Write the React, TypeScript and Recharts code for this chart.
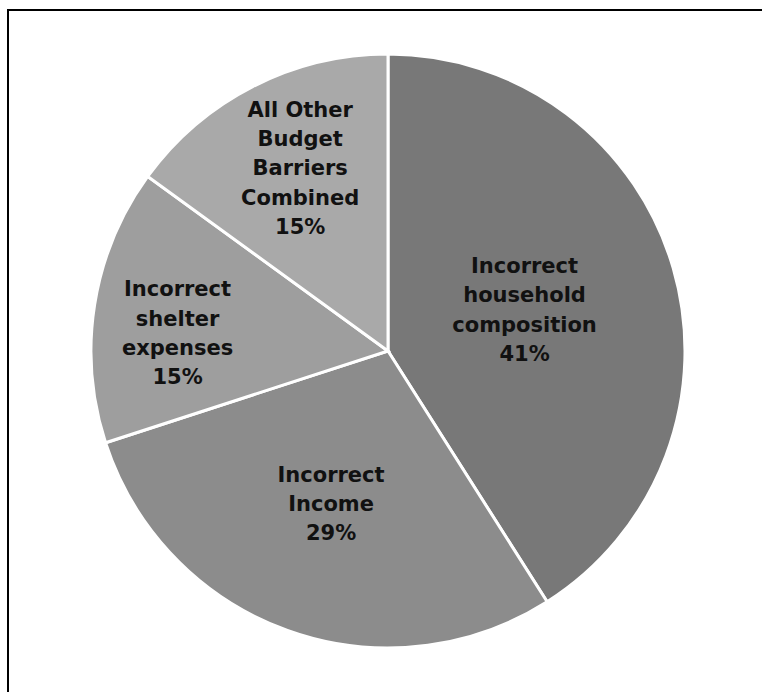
import React from 'react';
import { PieChart, Pie, Cell } from 'recharts';

// Slices go clockwise from 12 o'clock
const categories = [
  ['Incorrect', 'household', 'composition'],
  ['Incorrect', 'Income'],
  ['Incorrect', 'shelter', 'expenses'],
  ['All Other', 'Budget', 'Barriers', 'Combined'],
];
const shares = [41, 29, 15, 15];

const colors = ['#787878', '#8c8c8c', '#9e9e9e', '#a9a9a9'];
// label block placement: fraction of radius + small angle nudge (deg)
const labelRadius = [0.48, 0.55, 0.711, 0.682];
const labelNudge = [0.5, -0.6, 4.2, -1.3];

const data = shares.map((value, i) => ({ name: categories[i].join(' '), value }));

const RAD = Math.PI / 180;
const LINE_H = 29.3;

const renderLabel = (props: any) => {
  const { cx, cy, midAngle, outerRadius, index, value } = props;
  const r = outerRadius * labelRadius[index];
  const a = midAngle + labelNudge[index];
  const x = cx + r * Math.cos(-a * RAD);
  const y = cy + r * Math.sin(-a * RAD);
  const lines = [...categories[index], `${value}%`];
  const top = y - ((lines.length - 1) / 2) * LINE_H;
  return (
    <text
      x={x}
      y={top}
      textAnchor="middle"
      dominantBaseline="central"
      fill="#111"
      fontFamily="'DejaVu Sans', sans-serif"
      fontWeight="bold"
      fontSize={21}
    >
      {lines.map((line, i) => (
        <tspan key={i} x={x} y={top + i * LINE_H}>
          {line}
        </tspan>
      ))}
    </text>
  );
};

const App = () => {
  return (
    <div
      style={{
        position: 'absolute',
        left: 0,
        top: 0,
        width: 762,
        height: 692,
        overflow: 'hidden',
        background: '#fff',
      }}
    >
      <div
        style={{
          position: 'absolute',
          left: 7,
          top: 9,
          width: 800,
          height: 800,
          border: '2px solid #000',
        }}
      />
      <div style={{ position: 'absolute', left: 0, top: 0 }}>
        <PieChart width={762} height={692} margin={{ top: 0, right: 0, bottom: 0, left: 0 }}>
          <Pie
            data={data}
            dataKey="value"
            cx={388}
            cy={351}
            outerRadius={297}
            startAngle={90}
            endAngle={-270}
            stroke="#fff"
            strokeWidth={3}
            label={renderLabel}
            labelLine={false}
            isAnimationActive={false}
          >
            {data.map((_, i) => (
              <Cell key={i} fill={colors[i]} />
            ))}
          </Pie>
        </PieChart>
      </div>
    </div>
  );
};

export default App;
